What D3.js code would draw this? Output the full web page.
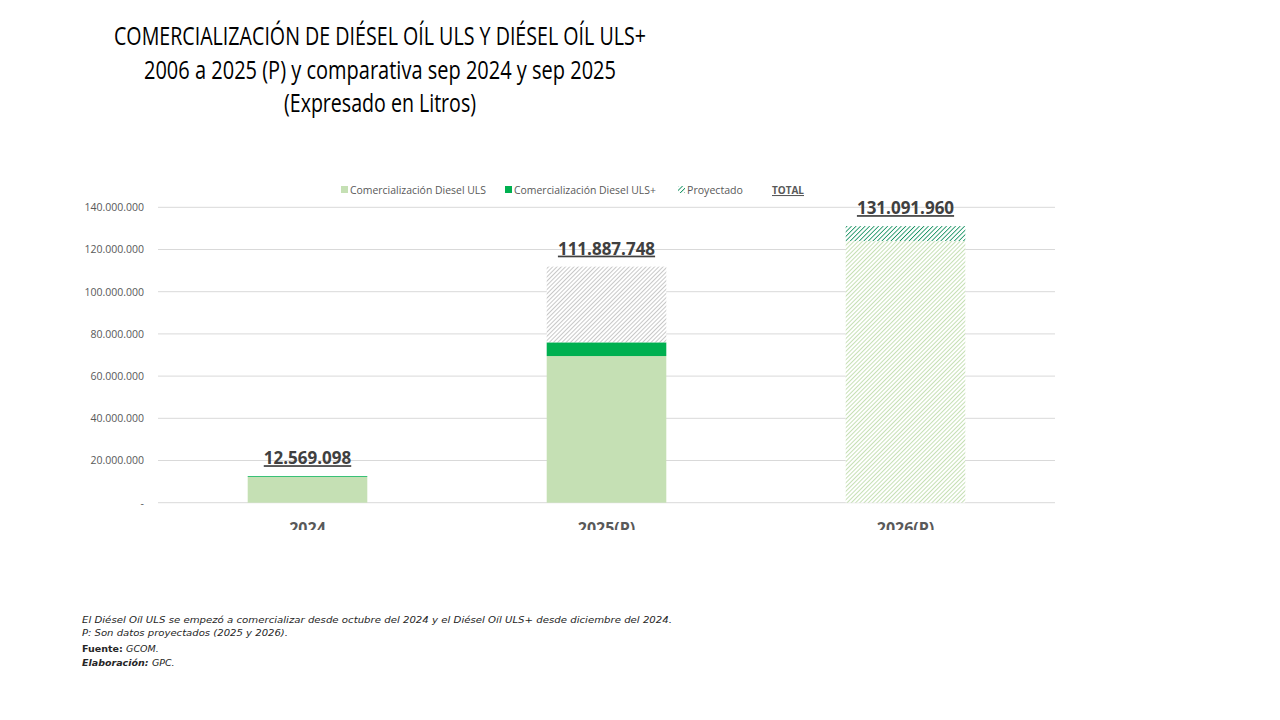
<!DOCTYPE html>
<html>
<head>
<meta charset="utf-8">
<script src="https://cdn.jsdelivr.net/npm/d3@7"></script>
<style>
  body { margin: 0; background: #fff; }
  svg { display: block; }
</style>
</head>
<body>
<div id="chart"></div>
<script>
// datos
var categorias = ["2024", "2025(P)", "2026(P)"];
var uls        = [12200000, 69500000, 0];
var ulsPlus    = [369098, 6500000, 0];
var proyectado = [0, 35887748, 0];
var ulsProy    = [0, 0, 124000000];
var ulsPlusProy = [0, 0, 7091960];
var totales    = [12569098, 111887748, 131091960];
var ticks      = [0, 20000000, 40000000, 60000000, 80000000, 100000000, 120000000, 140000000];
var leyenda    = ["Comercialización Diesel ULS", "Comercialización Diesel ULS+", "Proyectado", "TOTAL"];

var width = 1280, height = 720;

var svg = d3.select("#chart").append("svg")
    .attr("width", width)
    .attr("height", height);

var defs = svg.append("defs");

function hatch(id, color, size, sw) {
    var p = defs.append("pattern")
        .attr("id", id)
        .attr("patternUnits", "userSpaceOnUse")
        .attr("width", size)
        .attr("height", size)
        .attr("patternTransform", "rotate(45)");
    p.append("rect").attr("width", size).attr("height", size).attr("fill", "#fff");
    p.append("line")
        .attr("x1", 0).attr("y1", 0)
        .attr("x2", 0).attr("y2", size)
        .attr("stroke", color)
        .attr("stroke-width", sw);
}
hatch("hGris", "#9a9a9a", 3, 1.1);
hatch("hVerdeClaro", "#bcdba8", 3, 1.7);
hatch("hVerdeOsc", "#13905f", 3.2, 1.7);

defs.append("clipPath").attr("id", "clipCat")
    .append("rect").attr("x", 0).attr("y", 0).attr("width", width).attr("height", 530);

// titulo
var titulo = ["COMERCIALIZACIÓN DE DIÉSEL OÍL ULS Y DIÉSEL OÍL ULS+",
              "2006 a 2025 (P) y comparativa sep 2024 y sep 2025",
              "(Expresado en Litros)"];
var tw = [532, 472, 192];
svg.append("g").selectAll("text")
    .data(titulo)
    .enter().append("text")
    .attr("x", 380)
    .attr("y", function(d, i) { return 45 + i * 33.5; })
    .attr("text-anchor", "middle")
    .attr("textLength", function(d, i) { return tw[i]; })
    .attr("lengthAdjust", "spacingAndGlyphs")
    .style("font-family", "'Open Sans', sans-serif")
    .style("font-size", "25px")
    .style("fill", "#000")
    .text(function(d) { return d; });

// escalas
var x = d3.scaleBand()
    .domain(categorias)
    .range([158, 1055])
    .paddingInner(0.6)
    .paddingOuter(0.3);

var y = d3.scaleLinear()
    .domain([0, 140000000])
    .range([502.7, 207.3]);

var fmt = function(v) {
    if (v === 0) return "-";
    return d3.format(",")(v).replace(/,/g, ".");
};

// grilla
svg.append("g").selectAll("line")
    .data(ticks)
    .enter().append("line")
    .attr("x1", 158).attr("x2", 1055)
    .attr("y1", function(d) { return y(d); })
    .attr("y2", function(d) { return y(d); })
    .attr("stroke", "#d9d9d9")
    .attr("stroke-width", 1);

var yAxis = svg.append("g")
    .attr("transform", "translate(144,0)")
    .call(d3.axisLeft(y).tickValues(ticks).tickSize(0).tickFormat(fmt));
yAxis.select(".domain").remove();
yAxis.selectAll("text")
    .attr("x", 0)
    .style("font-family", "'Open Sans', sans-serif")
    .style("font-size", "10.5px")
    .style("fill", "#595959");

// barras
var filas = categorias.map(function(c, i) {
    return { cat: c, uls: uls[i], ulsPlus: ulsPlus[i], proy: proyectado[i],
             ulsProy: ulsProy[i], ulsPlusProy: ulsPlusProy[i] };
});
var claves = ["uls", "ulsPlus", "proy", "ulsProy", "ulsPlusProy"];
var rellenos = { uls: "#c5e0b4", ulsPlus: "#00b050", proy: "url(#hGris)",
                 ulsProy: "url(#hVerdeClaro)", ulsPlusProy: "url(#hVerdeOsc)" };

var stack = d3.stack().keys(claves);
var series = stack(filas);

svg.append("g").selectAll("g")
    .data(series)
    .enter().append("g")
    .attr("fill", function(d) { return rellenos[d.key]; })
    .selectAll("rect")
    .data(function(d) { return d; })
    .enter().append("rect")
    .attr("x", function(d) { return x(d.data.cat); })
    .attr("width", x.bandwidth())
    .attr("y", function(d) { return y(d[1]); })
    .attr("height", function(d) { return Math.max(0, y(d[0]) - y(d[1])); });

// totales
svg.append("g").selectAll("text")
    .data(totales)
    .enter().append("text")
    .attr("x", function(d, i) { return x(categorias[i]) + x.bandwidth() / 2; })
    .attr("y", function(d) { return y(d) - 12; })
    .attr("text-anchor", "middle")
    .style("font-family", "'Open Sans', sans-serif")
    .style("font-weight", "700")
    .style("font-size", "17px")
    .style("fill", "#404040")
    .style("text-decoration", "underline")
    .text(fmt);

// categorias (recortadas como en el original)
var xAxis = svg.append("g")
    .attr("clip-path", "url(#clipCat)")
    .append("g")
    .attr("transform", "translate(0,503)")
    .call(d3.axisBottom(x).tickSize(0));
xAxis.select(".domain").remove();
xAxis.selectAll("text")
    .attr("y", 31)
    .attr("dy", 0)
    .style("font-family", "'Open Sans', sans-serif")
    .style("font-weight", "700")
    .style("font-size", "16px")
    .style("fill", "#595959");

// leyenda
var legX = [341, 505, 678, 772];
var lg = svg.append("g").selectAll("g")
    .data(leyenda)
    .enter().append("g")
    .attr("transform", function(d, i) { return "translate(" + legX[i] + ",190)"; });

lg.filter(function(d, i) { return i < 2; })
    .append("rect")
    .attr("x", 0).attr("y", -4)
    .attr("width", 7).attr("height", 7)
    .attr("fill", function(d, i) { return i === 0 ? "#c5e0b4" : "#00b050"; });

lg.filter(function(d, i) { return i === 2; })
    .append("rect")
    .attr("x", 0).attr("y", -4)
    .attr("width", 7).attr("height", 7)
    .attr("fill", "url(#hVerdeOsc)");

var legW = [136, 142, 56, 32];
lg.append("text")
    .attr("x", function(d, i) { return i < 3 ? 9 : 0; })
    .attr("y", 4)
    .attr("textLength", function(d, i) { return legW[i]; })
    .attr("lengthAdjust", "spacingAndGlyphs")
    .style("font-family", "'Open Sans', sans-serif")
    .style("font-size", "10.5px")
    .style("font-weight", function(d, i) { return i === 3 ? "700" : "400"; })
    .style("text-decoration", function(d, i) { return i === 3 ? "underline" : "none"; })
    .style("fill", "#595959")
    .text(function(d) { return d; });

// notas
var notas = svg.append("g")
    .style("font-family", "'DejaVu Sans', sans-serif")
    .style("fill", "#262626");

notas.append("text")
    .attr("x", 82).attr("y", 623)
    .attr("textLength", 590)
    .attr("lengthAdjust", "spacingAndGlyphs")
    .style("font-size", "9.5px")
    .style("font-style", "italic")
    .text("El Diésel Oíl ULS  se empezó a comercializar desde octubre del 2024 y el Diésel Oíl ULS+ desde diciembre del 2024.");

notas.append("text")
    .attr("x", 82).attr("y", 636)
    .attr("textLength", 206)
    .attr("lengthAdjust", "spacingAndGlyphs")
    .style("font-size", "9.5px")
    .style("font-style", "italic")
    .text("P: Son datos proyectados (2025 y 2026).");

var f1 = notas.append("text").attr("x", 82).attr("y", 652).style("font-size", "9.5px");
f1.append("tspan").style("font-weight", "700").text("Fuente: ");
f1.append("tspan").style("font-style", "italic").text("GCOM.");

var f2 = notas.append("text").attr("x", 82).attr("y", 666).style("font-size", "9.5px");
f2.append("tspan").style("font-weight", "700").style("font-style", "italic").text("Elaboración: ");
f2.append("tspan").style("font-style", "italic").text("GPC.");
</script>
</body>
</html>
